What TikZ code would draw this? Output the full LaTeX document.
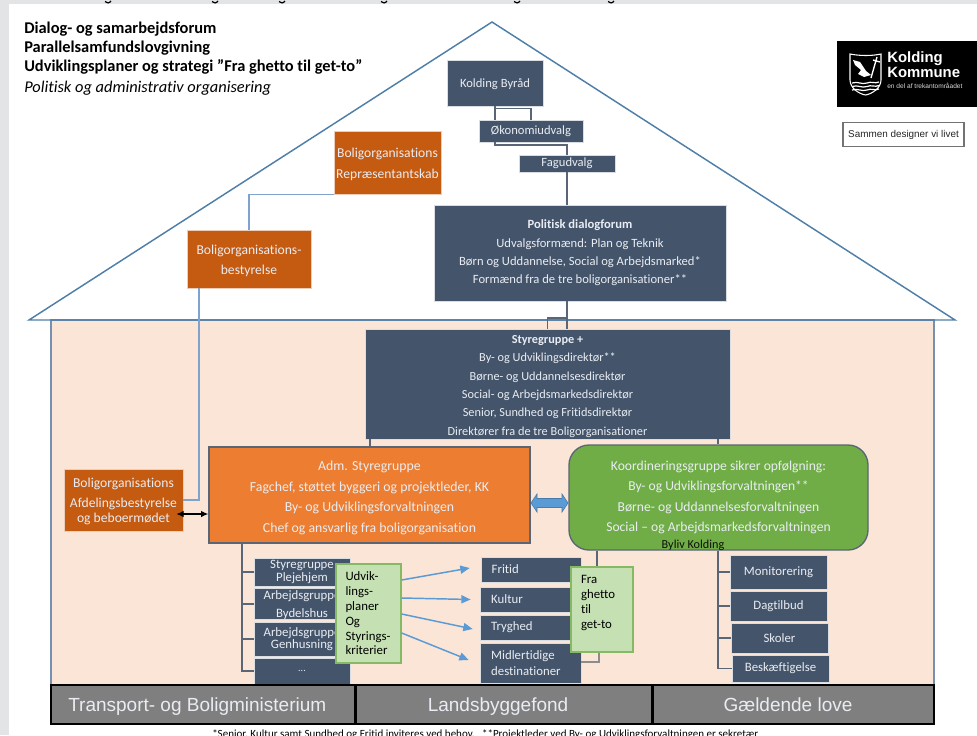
\documentclass[tikz,border=0pt]{standalone}
\usepackage{fontspec}
\setmainfont{Carlito}[Ligatures=NoCommon]
\newfontfamily\arialf{Liberation Sans}
\usetikzlibrary{arrows.meta,calc}
\definecolor{slate}{HTML}{44546A}
\definecolor{burnt}{HTML}{C55A11}
\definecolor{orng}{HTML}{ED7D31}
\definecolor{grn}{HTML}{70AD47}
\definecolor{lgrn}{HTML}{C5E0B3}
\definecolor{peach}{HTML}{FBE5D6}
\definecolor{roofc}{HTML}{4F7FA8}
\definecolor{wallc}{HTML}{7590B0}
\definecolor{lblue}{HTML}{7FA3CC}
\definecolor{conc}{HTML}{5A6675}
\definecolor{arrc}{HTML}{5B9BD5}
\definecolor{txtl}{HTML}{E9EDF3}
\definecolor{greyb}{HTML}{7F7F7F}
\definecolor{pagegrey}{HTML}{E3E4E6}
\newcommand\pxf[2]{\fontsize{\fpeval{#1*.75}pt}{\fpeval{#2*.75}pt}\selectfont}
\newcommand\dn[1]{\rule{0pt}{#1pt}}
% name, x1, y1, x2, y2, style, text
\newcommand\bx[7]{\node[#6,minimum width={(#4-#2)*0.75pt},minimum height={(#5-#3)*0.75pt}] (#1) at ({(#2+#4)/2},{(#3+#5)/2}) {#7};}
\tikzset{
  slatebox/.style={fill=slate,draw=white!80!slate,line width=.5pt,inner sep=0pt,text=txtl,align=center},
  leftbox/.style={slatebox,align=left,text width=59pt,font=\pxf{12.8}{15.500}},
  burntbox/.style={fill=burnt,draw=white!70!burnt,line width=.5pt,inner sep=0pt,text=txtl,align=center},
  greenbox/.style={fill=lgrn,draw=grn!85!white,line width=1pt,inner sep=0pt,text=black,align=left,font=\pxf{12.8}{14.800}},
  basebox/.style={fill=greyb,draw=black,line width=2.2pt,inner sep=0pt},
  basetext/.style={inner sep=0pt,text=txtl,font=\arialf\pxf{19}{22}},
  headtext/.style={anchor=base west,inner sep=0pt,font=\pxf{16.4}{19}\bfseries},
  conn/.style={draw=conc,line width=1.1pt},
  bconn/.style={draw=lblue,line width=1.2pt},
  blarr/.style={draw=arrc,line width=1.1pt,-{Triangle[length=7pt,width=6pt]}},
}
\begin{document}
\begin{tikzpicture}[x=0.75pt,y=-0.75pt]
\useasboundingbox (0,0) rectangle (977,735);
% page chrome
\fill[pagegrey] (0,0) rectangle (977,4);
\fill[pagegrey] (0,0) rectangle (9,735);
\foreach \gx in {108,215,282,384,517,611}
  \draw[black,line width=.9pt] (\gx-3,1.5) .. controls (\gx-1,3.5) and (\gx+1,3.5) .. (\gx+3,1);
% house
\fill[peach] (51,320) rectangle (934,685);
\draw[wallc,line width=1.3pt] (51,685) -- (51,320) -- (934,320) -- (934,685);
\draw[roofc,line width=1.1pt] (29,320) -- (492,22) -- (955,320) -- cycle;
% heading
\node[headtext] (h1) at (24,33.700) {Dialog- og samarbejdsforum};
\node[headtext] (h2) at (24,52.700) {Parallelsamfundslovgivning};
\node[headtext] (h3) at (24,72) {Udviklingsplaner og strategi ”Fra ghetto til get-to”};
\node[headtext,font=\pxf{16.4}{19}\itshape] (h4) at (24,92.700) {Politisk og administrativ organisering};
% logo
\fill[black] (837,41) rectangle (977,107);
\draw[white,line width=.8pt] (850,54) .. controls (860,56) and (872,56) .. (881,54) -- (881,80) .. controls (881,88) and (872,94) .. (865.500,95) .. controls (859,94) and (850,88) .. (850,80) -- cycle;
\fill[white] (853,60) -- (860,62) -- (866,71) -- (871,75) -- (864,77) -- (858,74) -- (861,70) -- (855,65) -- cycle;
\draw[white,line width=1pt] (877,57) -- (871,78) (873,60) -- (880,62);
\foreach \wy in {83,86.500,90}
  \draw[white,line width=.9pt] (852,\wy) .. controls (858,\wy-2) and (862,\wy+2) .. (867,\wy) .. controls (871,\wy-2) and (875,\wy+1) .. (879,\wy-1);
\node[anchor=west,inner sep=0pt,text=white,align=left,font=\arialf\bfseries\pxf{14.9}{12}] (logo) at (887,65) {Kolding\\Kommune};
\node[anchor=west,inner sep=0pt,text=white!85!black,font=\arialf\pxf{6.6}{7}] (logosub) at (887,86) {en del af trekantområadet};
\node[draw=black!55,line width=.8pt,minimum width={121*0.75pt},minimum height={24*0.75pt},inner sep=0pt,font=\arialf\pxf{9.9}{11},text=black!85] (motto) at (903.500,134.500) {Sammen designer vi livet};
% boxes
\begin{scope}[font=\pxf{12.6}{18.400}]
\bx{byr}{447}{60}{543}{106}{slatebox}{\dn{9}Kolding Byråd}
\bx{oko}{479}{120}{583}{142}{slatebox}{Økonomiudvalg}
\bx{fag}{519}{155}{615}{172}{slatebox}{Fagudvalg}
\bx{pol}{434}{205}{726}{301}{slatebox}{\textbf{Politisk dialogforum}\\Udvalgsformænd: Plan og Teknik\\Børn og Uddannelse, Social og Arbejdsmarked*\\Formænd fra de tre boligorganisationer**}
\bx{rep}{334}{131}{441}{194}{burntbox,font=\pxf{13.6}{20.500}}{\dn{10}Boligorganisations\\Repræsentantskab}
\bx{best}{187}{230}{311}{288}{burntbox,font=\pxf{13.6}{20.500}}{\dn{10}Boligorganisations-\\bestyrelse}
\bx{sty}{365}{329}{730}{439}{slatebox,font=\pxf{12.3}{18.300}}{\textbf{\dn{9.6}Styregruppe +}\\By- og Udviklingsdirektør**\\Børne- og Uddannelsesdirektør\\Social- og Arbejdsmarkedsdirektør\\Senior, Sundhed og Fritidsdirektør\\Direktører fra de tre Boligorganisationer}
\bx{afd}{64}{469}{183}{531}{burntbox,font=\pxf{13.6}{15}}{\dn{9}Boligorganisations\\[3.700pt]Afdelingsbestyrelse\\og beboermødet}
\bx{adm}{209}{447}{530}{543}{fill=orng,draw=conc,line width=1pt,inner sep=0pt,text=txtl,align=center,font=\pxf{13.8}{20.500}}{\dn{11.300}Adm. Styregruppe\\Fagchef, støttet byggeri og projektleder, KK\\By- og Udviklingsforvaltningen\\Chef og ansvarlig fra boligorganisation}
\bx{koo}{569}{445}{868}{550}{fill=grn,draw=conc,line width=1pt,rounded corners=15pt,inner sep=0pt,text=txtl,align=center,font=\pxf{13.6}{20.500}}{Koordineringsgruppe sikrer opfølgning:\\By- og Udviklingsforvaltningen**\\Børne- og Uddannelsesforvaltningen\\Social – og Arbejdsmarkedsforvaltningen}
\bx{ple}{254}{558}{350}{586}{slatebox,font=\pxf{12.8}{13.500}}{Styregruppe\\Plejehjem}
\bx{byd}{254}{590}{350}{618}{slatebox,font=\pxf{12.8}{18}}{\dn{8.600}Arbejdsgruppe\\Bydelshus}
\bx{gen}{254}{622}{350}{656}{slatebox,font=\pxf{12.8}{12.500}}{Arbejdsgruppe\\Genhusning}
\bx{dots}{254}{658}{350}{684}{slatebox,font=\pxf{10}{12}}{...}
\bx{fri}{481}{557}{581}{582}{leftbox}{Fritid}
\bx{kul}{480}{587}{581}{612}{leftbox}{Kultur}
\bx{try}{480}{615}{581}{640}{leftbox}{Tryghed}
\bx{mid}{480}{643}{581}{683}{leftbox}{Midlertidige\\destinationer}
\bx{mon}{730}{555}{827}{589}{slatebox,font=\pxf{12.8}{15}}{Monitorering}
\bx{dag}{730}{591}{827}{621}{slatebox,font=\pxf{12.8}{15}}{Dagtilbud}
\bx{sko}{731}{623}{828}{653}{slatebox,font=\pxf{12.8}{15}}{Skoler}
\bx{bes}{732}{655}{829}{682}{slatebox,font=\pxf{12.8}{15}}{Beskæftigelse}
\bx{udv}{336}{564}{401}{663}{greenbox,text width={46*0.75pt}}{Udvik-\\lings-\\planer\\Og\\Styrings-\\kriterier}
\bx{fra}{571}{567}{633}{652}{greenbox,text width={42*0.75pt}}{Fra\\ghetto\\til\\get-to\rule[-11.5pt]{0pt}{11.5pt}}
\end{scope}
% connectors
\coordinate (sa) at (370,0);
\coordinate (sb) at (718,0);
\coordinate (tl) at (242,0);
\coordinate (tg) at (597,0);
\coordinate (th) at (599,0);
\coordinate (bj) at (199,0);
\draw[conn] (byr.south) -- (byr.south |- oko.north);
\draw[conn] (byr.south |- 0,108.5) -| (oko.north);
\draw[conn] (byr.south |- oko.south) -- ++(0,2.5) -| (fag.north);
\draw[conn] (fag.south) -- (fag.south |- pol.north);
\draw[conn] (fag.south |- pol.south) -- (fag.south |- sty.north);
\draw[conn] (fag.south |- 0,318) -| (sty.north);
\draw[conn] (sa |- sty.south) -- (sa |- adm.north);
\draw[conn] (sb |- sty.south) -- (sb |- koo.north);
\draw[conn] (tl |- adm.south) -- (tl |- dots.west) -- (dots.west);
\draw[conn] (ple.west) -- (ple.west -| tl);
\draw[conn] (byd.west) -- (byd.west -| tl);
\draw[conn] (gen.west) -- (gen.west -| tl);
\draw[conn] (sb |- koo.south) -- (sb |- bes.west) -- (bes.west);
\draw[conn] (mon.west) -- (mon.west -| sb);
\draw[conn] (dag.west) -- (dag.west -| sb);
\draw[conn] (sko.west) -- (sko.west -| sb);
\draw[conn] (tg |- koo.south) -- (tg |- fra.north);
\draw[conn,draw=black!45] (th |- fra.south) -- (th |- 0,662) -- (mid.east |- 0,662);
\draw[bconn] (rep.south west) -| (best.north);
\draw[bconn] (bj |- best.south) -- (bj |- afd.east) -- (afd.east);
% arrows
\draw[blarr] (udv.east |- 0,580) -- ($(fri.west)+(-11,-1.5)$);
\draw[blarr] (udv.east |- 0,598) -- ($(kul.west)+(-9,0)$);
\draw[blarr] (udv.east |- 0,614) -- ($(try.west)+(-7,1.5)$);
\draw[blarr] (udv.east |- 0,633) -- ($(mid.west)+(-11,-3)$);
\coordinate (ba) at ($(afd.east)+(-7,14)$);
\draw[black,line width=1pt,{Latex[length=5.500pt,width=5pt]}-{Latex[length=5.500pt,width=5pt]}] (ba) -- (ba -| adm.west);
\filldraw[fill=arrc,draw=arrc!80!black,line width=.5pt] (531,503) -- (537,494) -- (537,498.500) -- (562,498.500) -- (562,494) -- (568,503) -- (562,512) -- (562,507.500) -- (537,507.500) -- (537,512) -- cycle;
\node[inner sep=0pt,text=black!90!grn,font=\pxf{12.200}{14}] (byliv) at (693,545) {Byliv Kolding};
% base bars
\bx{b1}{51}{685}{355}{724}{basebox}{}
\bx{b2}{356}{685}{652}{724}{basebox}{}
\bx{b3}{653}{685}{934}{724}{basebox}{}
\node[basetext,anchor=base west] (t1) at (68,711.500) {Transport- og Boligministerium};
\node[basetext,anchor=base] (t2) at (498,711.500) {Landsbyggefond};
\node[basetext,anchor=base] (t3) at (788,711.500) {Gældende love};
% footnote
\node[anchor=base west,inner sep=0pt,font=\pxf{11}{13}] (foot) at (212,737) {*Senior, Kultur samt Sundhed og Fritid inviteres ved behov.\ \ \ **Projektleder ved By- og Udviklingsforvaltningen er sekretær};
\end{tikzpicture}
\end{document}
